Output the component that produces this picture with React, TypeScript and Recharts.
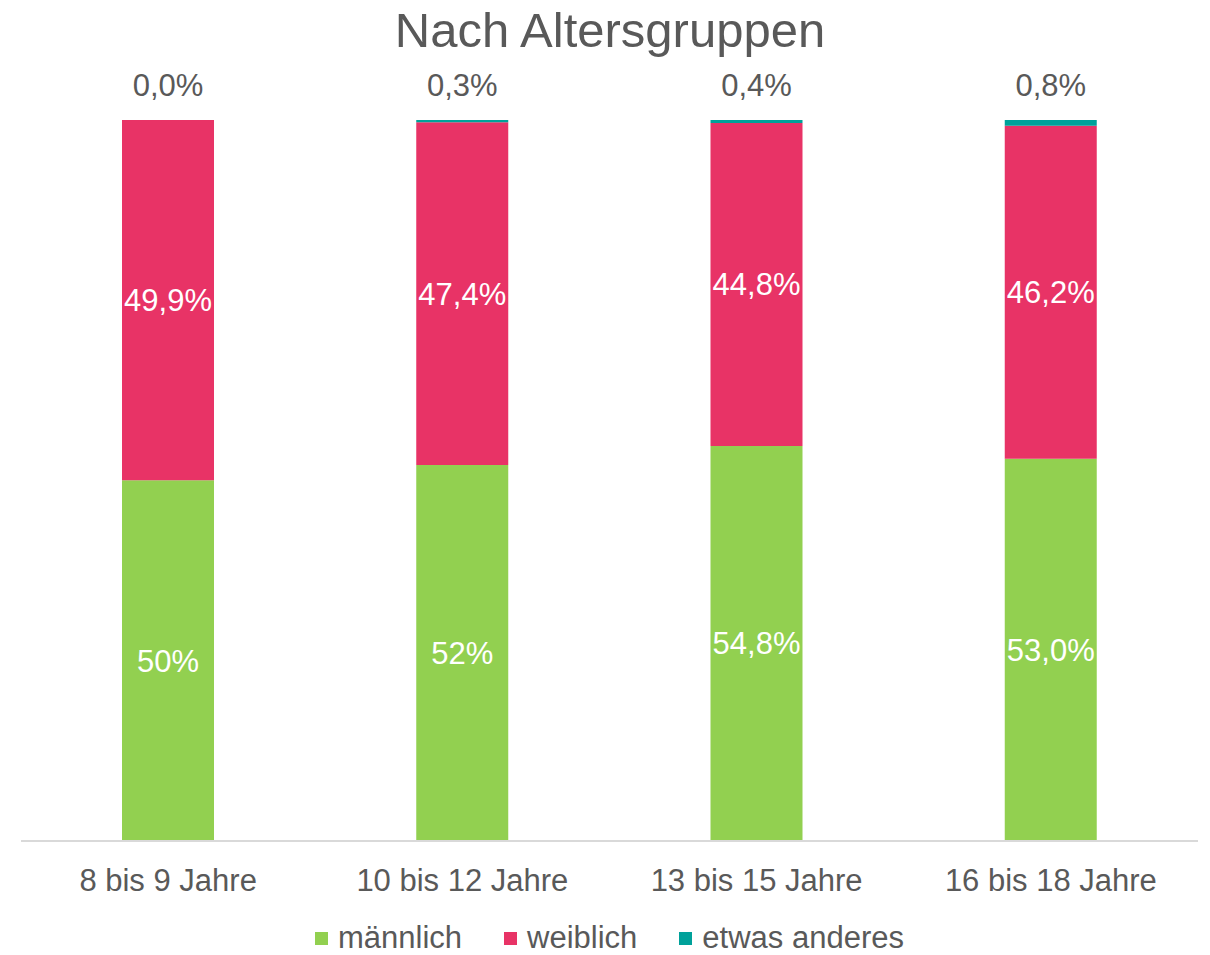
import { BarChart, Bar, XAxis, YAxis, Legend, LabelList } from "recharts"

const categories = ["8 bis 9 Jahre", "10 bis 12 Jahre", "13 bis 15 Jahre", "16 bis 18 Jahre"]
const maleValues = [50, 52, 54.8, 53.0]
const femaleValues = [49.9, 47.4, 44.8, 46.2]
const otherValues = [0.0, 0.3, 0.4, 0.8]
const maleLabels = ["50%", "52%", "54,8%", "53,0%"]
const femaleLabels = ["49,9%", "47,4%", "44,8%", "46,2%"]
const otherLabels = ["0,0%", "0,3%", "0,4%", "0,8%"]

const series = [
  { key: "male", name: "männlich", color: "#92d050" },
  { key: "female", name: "weiblich", color: "#e83366" },
  { key: "other", name: "etwas anderes", color: "#00a19a" },
]

const FONT = '"Liberation Sans", Arial, sans-serif'
const TEXT = "#595959"

const data = categories.map((cat, i) => ({
  cat,
  male: maleValues[i],
  female: femaleValues[i],
  other: otherValues[i],
  maleLabel: maleLabels[i],
  femaleLabel: femaleLabels[i],
  otherLabel: otherLabels[i],
}))

// label for "etwas anderes" sits above the whole stack; drawn from the
// weiblich segment so that the 0,0% case (no rect) still gets its label
function TopLabel(props: any) {
  const { viewBox, index } = props
  if (!viewBox || index == null) return null
  const row = data[index]
  const tealH = row.female ? (viewBox.height * row.other) / row.female : 0
  return (
    <text
      x={viewBox.x + viewBox.width / 2}
      y={viewBox.y - tealH - 24}
      textAnchor="middle"
      fill={TEXT}
      fontSize={31}
      fontFamily={FONT}
    >
      {row.otherLabel}
    </text>
  )
}

function LegendContent() {
  return (
    <div
      style={{
        height: 34,
        display: "flex",
        justifyContent: "center",
        alignItems: "center",
        gap: 42,
        fontFamily: FONT,
        fontSize: 31,
        color: TEXT,
      }}
    >
      {series.map((s) => (
        <div key={s.key} style={{ display: "flex", alignItems: "center" }}>
          <span style={{ width: 13, height: 13, background: s.color, marginRight: 10, display: "inline-block" }} />
          <span>{s.name}</span>
        </div>
      ))}
    </div>
  )
}

export default function App() {
  return (
    <div style={{ position: "absolute", left: 0, top: 0, width: 1210, height: 955, background: "#fff" }}>
      <div
        style={{
          position: "absolute",
          top: 0,
          left: 0,
          width: 1220,
          textAlign: "center",
          lineHeight: "60px",
          fontSize: 49,
          fontFamily: FONT,
          color: TEXT,
        }}
      >
        Nach Altersgruppen
      </div>
      <BarChart
        width={1210}
        height={955}
        data={data}
        stackOffset="expand"
        margin={{ top: 120, right: 12, left: 21, bottom: 0 }}
        barSize={92}
      >
        <XAxis
          dataKey="cat"
          height={80}
          tickLine={false}
          tickSize={0}
          tickMargin={28}
          axisLine={{ stroke: "#d9d9d9", strokeWidth: 2 }}
          tick={{ fill: TEXT, fontSize: 31, fontFamily: FONT }}
          interval={0}
        />
        <YAxis hide domain={[0, 1]} />
        <Legend verticalAlign="bottom" height={34} content={<LegendContent />} />
        <Bar dataKey="male" name="männlich" stackId="a" fill="#92d050" isAnimationActive={false}>
          <LabelList dataKey="maleLabel" position="center" fill="#ffffff" fontSize={31} fontFamily={FONT} />
        </Bar>
        <Bar dataKey="female" name="weiblich" stackId="a" fill="#e83366" isAnimationActive={false}>
          <LabelList dataKey="femaleLabel" position="center" fill="#ffffff" fontSize={31} fontFamily={FONT} />
          <LabelList dataKey="otherLabel" content={<TopLabel />} />
        </Bar>
        <Bar dataKey="other" name="etwas anderes" stackId="a" fill="#00a19a" isAnimationActive={false} />
      </BarChart>
    </div>
  )
}
